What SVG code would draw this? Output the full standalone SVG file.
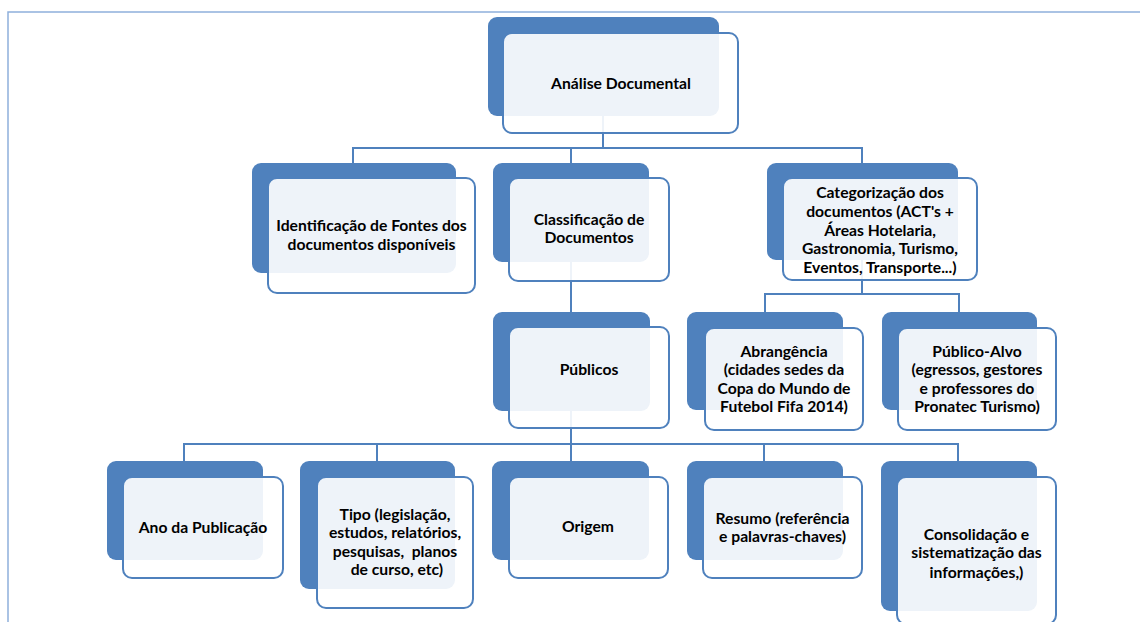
<svg xmlns="http://www.w3.org/2000/svg" width="1140" height="622" viewBox="0 0 1140 622">
<style>
.bg{fill:#4f81bd}
.fg{fill:#ffffff;fill-opacity:0.9;stroke:#4f81bd;stroke-width:2}
.t{font-family:Lato,"Liberation Sans",sans-serif;font-weight:bold;font-size:15.7px;fill:#000;text-anchor:middle;white-space:pre}
.c{fill:none;stroke:#4f81bd;stroke-width:2}
</style>
<rect width="1140" height="622" fill="#fff"/>
<path d="M8 622 V12 H1140" fill="none" stroke="#8fb0dc" stroke-width="1.5"/>
<g id="connectors">
<path class="c" d="M603 116 V148 M352 148 H863 M353 148 V163 M571 148 V163 M862 148 V163"/>
<path class="c" d="M571 262 V312"/>
<path class="c" d="M862 260 V294 M764 294 H960 M765 294 V312 M959 294 V312"/>
<path class="c" d="M571 411 V444 M183 444 H959 M184 444 V461 M377 444 V461 M571 444 V461 M764 444 V461 M958 444 V461"/>
</g>
<g id="n1">
<rect class="bg" x="488" y="17" width="231" height="99" rx="9"/>
<rect class="fg" x="503" y="33" width="235" height="100" rx="9"/>
<text class="t" x="621" y="89">Análise Documental</text>
</g>
<g id="n2">
<rect class="bg" x="252" y="163" width="204" height="110" rx="9"/>
<rect class="fg" x="268" y="178" width="207" height="115" rx="9"/>
<text class="t" x="371.5"><tspan x="371.5" y="231">Identificação de Fontes dos</tspan><tspan x="371.5" y="250">documentos disponíveis</tspan></text>
</g>
<g id="n3">
<rect class="bg" x="493" y="163" width="156" height="99" rx="9"/>
<rect class="fg" x="509" y="178" width="160" height="103" rx="9"/>
<text class="t"><tspan x="589" y="225">Classificação de</tspan><tspan x="589" y="243">Documentos</tspan></text>
</g>
<g id="n4">
<rect class="bg" x="767" y="163" width="191" height="97" rx="9"/>
<rect class="fg" x="783" y="178" width="194" height="102" rx="9"/>
<text class="t"><tspan x="880" y="198">Categorização dos</tspan><tspan x="880" y="217">documentos (ACT's +</tspan><tspan x="880" y="236">Áreas Hotelaria,</tspan><tspan x="880" y="254">Gastronomia, Turismo,</tspan><tspan x="880" y="273">Eventos, Transporte...)</tspan></text>
</g>
<g id="n5">
<rect class="bg" x="493" y="312" width="157" height="99" rx="9"/>
<rect class="fg" x="509" y="327" width="160" height="101" rx="9"/>
<text class="t" x="589" y="375">Públicos</text>
</g>
<g id="n6">
<rect class="bg" x="687" y="312" width="156" height="98" rx="9"/>
<rect class="fg" x="705" y="328" width="158" height="102" rx="9"/>
<text class="t"><tspan x="784" y="357">Abrangência</tspan><tspan x="784" y="375">(cidades sedes da</tspan><tspan x="784" y="394">Copa do Mundo de</tspan><tspan x="784" y="412">Futebol Fifa 2014)</tspan></text>
</g>
<g id="n7">
<rect class="bg" x="882" y="312" width="155" height="98" rx="9"/>
<rect class="fg" x="898" y="328" width="158" height="102" rx="9"/>
<text class="t"><tspan x="977" y="357">Público-Alvo</tspan><tspan x="977" y="375">(egressos, gestores</tspan><tspan x="977" y="394">e professores do</tspan><tspan x="977" y="412">Pronatec Turismo)</tspan></text>
</g>
<g id="n8">
<rect class="bg" x="107" y="461" width="156" height="99" rx="9"/>
<rect class="fg" x="123" y="477" width="160" height="101" rx="9"/>
<text class="t" x="203" y="533">Ano da Publicação</text>
</g>
<g id="n9">
<rect class="bg" x="300" y="461" width="155" height="128" rx="9"/>
<rect class="fg" x="317" y="477" width="156" height="131" rx="9"/>
<text class="t"><tspan x="395" y="520">Tipo (legislação,</tspan><tspan x="395" y="538">estudos, relatórios,</tspan><tspan x="395" y="557">pesquisas,  planos</tspan><tspan x="395" y="575"> de curso, etc)</tspan></text>
</g>
<g id="n10">
<rect class="bg" x="492" y="461" width="157" height="99" rx="9"/>
<rect class="fg" x="509" y="477" width="159" height="101" rx="9"/>
<text class="t" x="588" y="532">Origem</text>
</g>
<g id="n11">
<rect class="bg" x="687" y="461" width="156" height="99" rx="9"/>
<rect class="fg" x="703" y="477" width="159" height="101" rx="9"/>
<text class="t"><tspan x="782.5" y="524">Resumo (referência</tspan><tspan x="782.5" y="542">e palavras-chaves)</tspan></text>
</g>
<g id="n12">
<rect class="bg" x="881" y="461" width="156" height="150" rx="9"/>
<rect class="fg" x="897" y="477" width="159" height="147" rx="9"/>
<text class="t"><tspan x="976.5" y="540">Consolidação e</tspan><tspan x="976.5" y="558">sistematização das</tspan><tspan x="976.5" y="578">informações,)</tspan></text>
</g>
</svg>
